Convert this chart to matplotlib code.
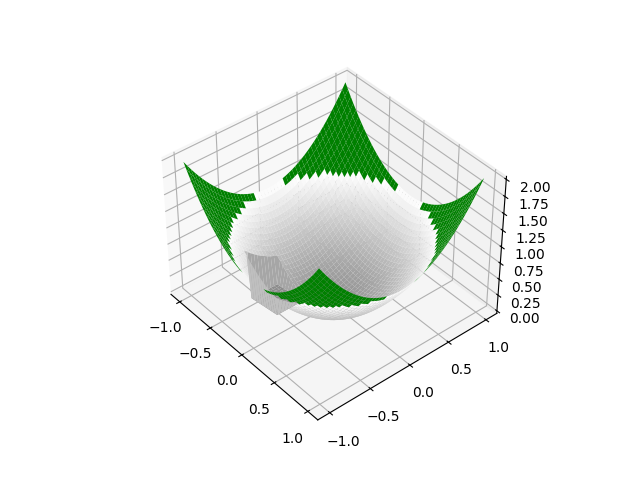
import numpy as np
import matplotlib
matplotlib.use("Agg")
import matplotlib.pyplot as plt

N_GRID = 50
GRAY_CENTER = 0.58
GRAY_RIM = 1.0
GREEN = (0.0, 0.5, 0.0, 1.0)
CLEAR = (1.0, 1.0, 1.0, 0.0)
# square pit cut into the bowl
PIT_X = [-0.58, -0.12]
PIT_Y = [-0.63, -0.25]
PIT_FLOOR_Z = [0.0, 0.08]   # floor height at the two x ends
WALL_GRAY = 0.65
OUTER_WALL_GRAY = 0.75
FLOOR_GRAY = 0.55

fig = plt.figure()
ax = fig.add_subplot(projection="3d")
ax.computed_zorder = False
ax.view_init(elev=40, azim=-40)

x = np.linspace(-1, 1, N_GRID)
X, Y = np.meshgrid(x, x)
Z = X**2 + Y**2
pit = (X > PIT_X[0]) & (X < PIT_X[1]) & (Y > PIT_Y[0]) & (Y < PIT_Y[1])
Z[pit] = np.interp(X[pit], PIT_X, PIT_FLOOR_Z)

# colour per cell, from the cell centre
xc = (x[:-1] + x[1:]) / 2
XC, YC = np.meshgrid(xc, xc)
RC2 = XC**2 + YC**2
gray = GRAY_CENTER + (GRAY_RIM - GRAY_CENTER) * np.clip(RC2, 0, 1)
bowl_colors = np.stack([gray, gray, gray, np.ones_like(gray)], axis=-1)
bowl_colors[RC2 >= 1] = CLEAR
green_colors = np.full(bowl_colors.shape, CLEAR)
green_colors[RC2 >= 1] = GREEN
pit_colors = np.full(bowl_colors.shape, CLEAR)
for i in range(N_GRID - 1):
    for j in range(N_GRID - 1):
        cell = pit[i:i+2, j:j+2]
        if cell.all():
            g = FLOOR_GRAY
        elif cell.any():
            # rows are y, columns are x: near sides are low y and high x
            g = OUTER_WALL_GRAY if (YC[i, j] < PIT_Y[0] + 0.04 or XC[i, j] > PIT_X[1] - 0.04) else WALL_GRAY
        else:
            continue
        pit_colors[i, j] = (g, g, g, 1.0)
        bowl_colors[i, j] = CLEAR

for order, cols in enumerate([bowl_colors, pit_colors, green_colors]):
    ax.plot_surface(X, Y, Z, facecolors=cols, rstride=1, cstride=1, shade=False,
                    linewidth=0, zorder=order + 2)

fig.savefig("out.png", dpi=100)
